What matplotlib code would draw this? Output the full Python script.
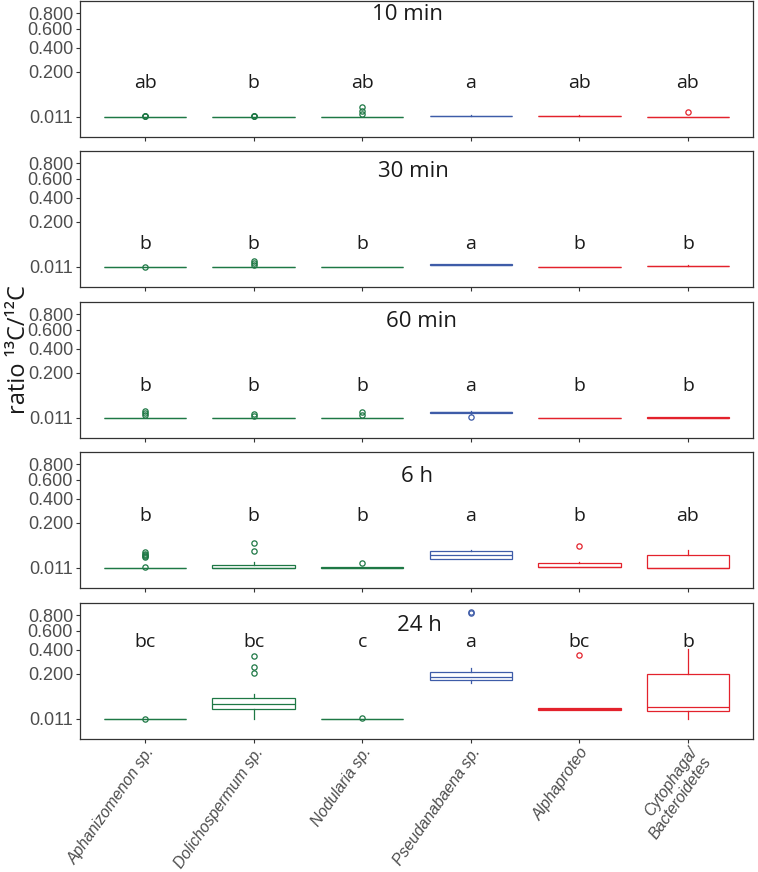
import numpy as np
import matplotlib
matplotlib.use("Agg")
import matplotlib.pyplot as plt

# categories / panels
taxa = ["Aphanizomenon sp.", "Dolichospermum sp.", "Nodularia sp.",
        "Pseudanabaena sp.", "Alphaproteo", "Cytophaga/\nBacteroidetes"]
times = ["10 min", "30 min", "60 min", "6 h", "24 h"]
taxon_colors = ["#1e7845", "#1e7845", "#1e7845", "#3e5ca8", "#e3222c", "#e3222c"]

# box statistics, one row per time point, one column per taxon
q1 = [
    [0.0110, 0.0110, 0.0110, 0.0122, 0.0115, 0.0110],
    [0.0110, 0.0110, 0.0110, 0.0136, 0.0110, 0.0115],
    [0.0110, 0.0110, 0.0110, 0.0190, 0.0105, 0.0110],
    [0.0110, 0.0110, 0.0110, 0.0300, 0.0115, 0.0110],
    [0.0110, 0.0330, 0.0110, 0.1610, 0.0300, 0.0260],
]
med = [
    [0.0110, 0.0110, 0.0111, 0.0125, 0.0122, 0.0110],
    [0.0110, 0.0111, 0.0110, 0.0143, 0.0110, 0.0120],
    [0.0110, 0.0110, 0.0110, 0.0210, 0.0108, 0.0113],
    [0.0110, 0.0110, 0.0112, 0.0410, 0.0120, 0.0110],
    [0.0110, 0.0480, 0.0110, 0.1800, 0.0320, 0.0380],
]
q3 = [
    [0.0110, 0.0112, 0.0112, 0.0128, 0.0130, 0.0110],
    [0.0110, 0.0113, 0.0110, 0.0150, 0.0110, 0.0128],
    [0.0112, 0.0110, 0.0110, 0.0225, 0.0112, 0.0118],
    [0.0110, 0.0157, 0.0125, 0.0550, 0.0200, 0.0400],
    [0.0110, 0.0700, 0.0113, 0.2160, 0.0340, 0.2000],
]
whislo = [
    [0.0110, 0.0110, 0.0110, 0.0120, 0.0115, 0.0110],
    [0.0110, 0.0110, 0.0110, 0.0134, 0.0110, 0.0115],
    [0.0110, 0.0110, 0.0110, 0.0185, 0.0105, 0.0110],
    [0.0110, 0.0110, 0.0110, 0.0300, 0.0115, 0.0110],
    [0.0110, 0.0110, 0.0110, 0.1450, 0.0300, 0.0110],
]
whishi = [
    [0.0110, 0.0112, 0.0113, 0.0135, 0.0135, 0.0110],
    [0.0110, 0.0113, 0.0110, 0.0158, 0.0110, 0.0135],
    [0.0112, 0.0110, 0.0110, 0.0245, 0.0112, 0.0118],
    [0.0110, 0.0226, 0.0125, 0.0580, 0.0210, 0.0560],
    [0.0110, 0.0870, 0.0113, 0.2430, 0.0340, 0.4060],
]
outliers = [
    [[0.0114, 0.0116, 0.0118], [0.0114, 0.0116, 0.0118], [0.0158, 0.0228, 0.031], [], [], [0.0192]],
    [[0.0112], [0.0133, 0.0177, 0.021], [], [], [], []],
    [[0.015, 0.0196, 0.024], [0.0145, 0.0185], [0.0165, 0.0225], [0.0115], [], []],
    [[0.0118, 0.036, 0.039, 0.042, 0.045, 0.049], [0.055, 0.087], [0.020], [], [0.074], []],
    [[0.0113], [0.204, 0.247, 0.343], [0.0125], [0.830, 0.840], [0.349], []],
]
letters = [
    ["ab", "b", "ab", "a", "ab", "ab"],
    ["b", "b", "b", "a", "b", "b"],
    ["b", "b", "b", "a", "b", "b"],
    ["b", "b", "b", "a", "b", "ab"],
    ["bc", "bc", "c", "a", "bc", "b"],
]
letter_y = [0.104, 0.059, 0.095, 0.21, 0.425]

yticks = [0.011, 0.2, 0.4, 0.6, 0.8]
ytick_labels = ["0.011", "0.200", "0.400", "0.600", "0.800"]


def fwd(x):
    x = np.asarray(x, dtype=float)
    return np.sign(x) * np.sqrt(np.abs(x))


def inv(y):
    y = np.asarray(y, dtype=float)
    return np.sign(y) * y ** 2


W, H = 758, 872
fig = plt.figure(figsize=(W / 100, H / 100), dpi=100)

panel_tops = [1, 151, 302, 452, 603]
panel_h = 136
left, right = 80, 753
title_off = [19, 26, 25, 30, 28]
title_x = [0.486, 0.496, 0.507, 0.501, 0.505]
grey = "#4d4d4d"
pos = np.arange(1, len(taxa) + 1)

for p, t in enumerate(times):
    ax = fig.add_axes([left / W, 1 - (panel_tops[p] + panel_h) / H,
                       (right - left) / W, panel_h / H])
    ax.set_yscale("function", functions=(fwd, inv))
    for i in range(len(taxa)):
        c = taxon_colors[i]
        st = dict(med=med[p][i], q1=q1[p][i], q3=q3[p][i],
                  whislo=whislo[p][i], whishi=whishi[p][i],
                  fliers=outliers[p][i])
        ax.bxp([st], positions=[pos[i]], widths=0.76, showcaps=False,
               patch_artist=True,
               boxprops=dict(facecolor="white", edgecolor=c, linewidth=0.9),
               medianprops=dict(color=c, linewidth=0.9),
               whiskerprops=dict(color=c, linewidth=0.9),
               flierprops=dict(marker="o", markerfacecolor="none",
                               markeredgecolor=c, markersize=3.8,
                               markeredgewidth=0.9))
        ax.text(pos[i], letter_y[p], letters[p][i], ha="center", va="baseline",
                fontsize=14, family="Open Sans", color="#1a1a1a")
    ax.set_xlim(0.4, 6.6)
    ax.set_ylim(-0.0025, 0.976)
    ax.set_yticks(yticks)
    ax.set_yticklabels(ytick_labels, fontsize=13, family="Liberation Sans",
                       color=grey)
    ax.yaxis.set_minor_locator(matplotlib.ticker.NullLocator())
    ax.set_xticks(pos)
    if p == len(times) - 1:
        ax.set_xticklabels(taxa, rotation=55, ha="right", rotation_mode="anchor",
                           fontsize=11.3, family="Liberation Sans", style="italic",
                           color=grey, multialignment="right")
        ax.tick_params(axis="x", pad=1)
    else:
        ax.set_xticklabels([])
    ax.tick_params(axis="both", length=3, width=0.8, color="#333333")
    ax.tick_params(axis="y", pad=2)
    for s in ax.spines.values():
        s.set_color("#333333")
        s.set_linewidth(0.9)
    ax.text(title_x[p], 1 - title_off[p] / panel_h, t, transform=ax.transAxes,
            ha="center", va="baseline", fontsize=16, family="Open Sans",
            color="#1a1a1a")

fig.text(19 / W, 1 - 350 / H, "ratio ¹³C/¹²C", rotation=90, ha="center",
         va="center", fontsize=17, family="Open Sans", color="#1a1a1a")

fig.savefig("out.png", dpi=100)
